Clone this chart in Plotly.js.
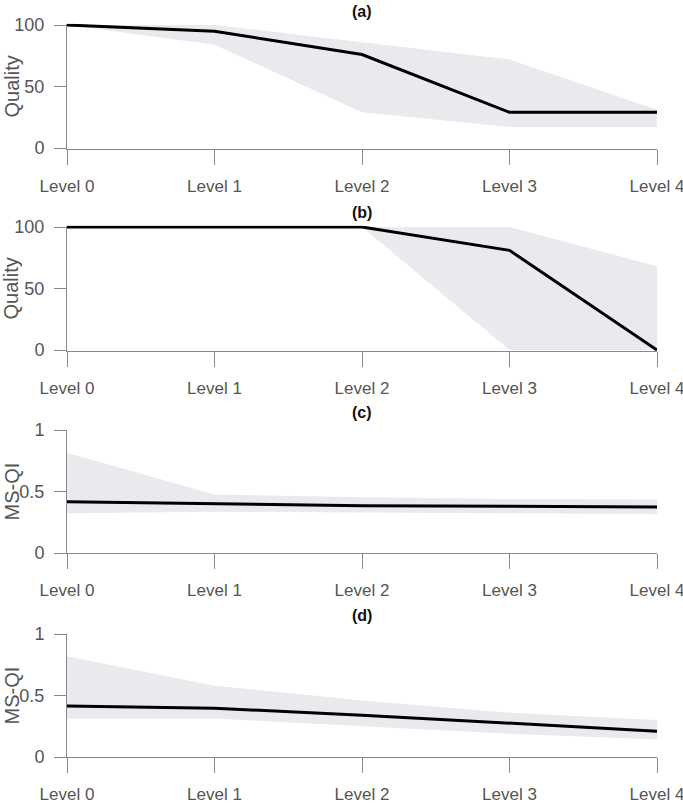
<!DOCTYPE html>
<html>
<head>
<meta charset="utf-8">
<script src="https://cdn.plot.ly/plotly-3.0.1.min.js"></script>
<style>html,body{margin:0;padding:0;background:#fff;}#chart{width:683px;height:807px;}</style>
</head>
<body>
<div id="chart"></div>
<script>
const levels = ['Level 0', 'Level 1', 'Level 2', 'Level 3', 'Level 4'];
const xpos = [0, 1, 2, 3, 4];

// (a) Quality
const aMean  = [100, 95, 76, 29, 29];
const aUpper = [100, 100, 86, 72, 31];
const aLower = [100, 84, 29, 17, 17];
// (b) Quality
const bMean  = [100, 100, 100, 81, 0];
const bUpper = [100, 100, 100, 100, 68];
const bLower = [100, 100, 100, 0, 0];
// (c) MS-QI
const cMean  = [0.417, 0.40, 0.385, 0.38, 0.374];
const cUpper = [0.815, 0.476, 0.454, 0.44, 0.435];
const cLower = [0.323, 0.336, 0.33, 0.323, 0.317];
// (d) MS-QI
const dMean  = [0.414, 0.397, 0.34, 0.276, 0.21];
const dUpper = [0.82, 0.58, 0.46, 0.36, 0.30];
const dLower = [0.313, 0.313, 0.25, 0.19, 0.143];

const panelTitles = ['(a)', '(b)', '(c)', '(d)'];
const yTitles = ['Quality', 'Quality', 'MS-QI', 'MS-QI'];

const H = 807;
const FILL = '#e9eaee';
const AX = '#8a8a8a';
const TXT = '#555555';
const FONT = '"Liberation Sans", Arial, Helvetica, sans-serif';

function dom(pTop, pBot, vTop, vBot, rMin, rMax) {
  const s = (pBot - pTop) / (vTop - vBot);
  const top = pTop - (rMax - vTop) * s;
  const bot = pBot + (vBot - rMin) * s;
  return [1 - bot / H, 1 - top / H];
}

const panels = [
  {mean: aMean, up: aUpper, lo: aLower, pTop: 25, pBot: 148, vTop: 100, r: [-0.8, 101], tv: [0, 50, 100], tt: ['0', '50', '100'], titleY: 11},
  {mean: bMean, up: bUpper, lo: bLower, pTop: 227, pBot: 350, vTop: 100, r: [-0.8, 101], tv: [0, 50, 100], tt: ['0', '50', '100'], titleY: 212},
  {mean: cMean, up: cUpper, lo: cLower, pTop: 430, pBot: 553, vTop: 1, r: [0, 1], tv: [0, 0.5, 1], tt: ['0', '0.5', '1'], titleY: 412},
  {mean: dMean, up: dUpper, lo: dLower, pTop: 634, pBot: 757, vTop: 1, r: [0, 1], tv: [0, 0.5, 1], tt: ['0', '0.5', '1'], titleY: 615}
];

const data = [];
const layout = {
  width: 683, height: 807,
  margin: {l: 67, r: 26, t: 0, b: 0},
  paper_bgcolor: '#fff', plot_bgcolor: '#fff',
  showlegend: false,
  annotations: []
};

panels.forEach((p, i) => {
  const n = i === 0 ? '' : String(i + 1);
  const xa = 'x' + n, ya = 'y' + n;
  data.push({x: xpos, y: p.lo, xaxis: xa, yaxis: ya, mode: 'lines', line: {width: 0, color: FILL}, hoverinfo: 'skip'});
  data.push({x: xpos, y: p.up, xaxis: xa, yaxis: ya, mode: 'lines', line: {width: 0, color: FILL}, fill: 'tonexty', fillcolor: FILL, hoverinfo: 'skip'});
  data.push({x: xpos, y: p.mean, xaxis: xa, yaxis: ya, mode: 'lines', line: {width: 3, color: '#000'}});

  const d = dom(p.pTop, p.pBot, p.vTop, 0, p.r[0], p.r[1]);
  layout['xaxis' + n] = {
    domain: [0, 1], anchor: ya, range: [0, 4],
    tickvals: xpos, ticktext: levels,
    showline: true, linecolor: AX, linewidth: 1,
    ticks: 'outside', ticklen: 15, tickcolor: AX, tickwidth: 1,
    showgrid: false, zeroline: false, ticklabelstandoff: 7,
    ticklabeloverflow: 'allow',
    tickfont: {family: FONT, size: 17, color: TXT}
  };
  layout['yaxis' + n] = {
    domain: d, anchor: xa, range: p.r,
    tickvals: p.tv, ticktext: p.tt,
    showline: true, linecolor: AX, linewidth: 1,
    ticks: 'outside', ticklen: 12, tickcolor: AX, tickwidth: 1,
    showgrid: false, zeroline: false, ticklabelstandoff: 6,
    ticklabeloverflow: 'allow',
    tickfont: {family: FONT, size: 18, color: TXT}
  };
  layout.annotations.push({
    xref: 'paper', yref: 'paper', x: 0.5, y: 1 - p.titleY / H,
    xanchor: 'center', yanchor: 'middle', showarrow: false,
    text: '<b>' + panelTitles[i] + '</b>',
    font: {family: FONT, size: 16, color: '#111'}
  });
  layout.annotations.push({
    xref: 'paper', yref: 'paper', x: (11 - 67) / 590, y: 1 - ((p.pTop + p.pBot) / 2) / H,
    xanchor: 'center', yanchor: 'middle', showarrow: false, textangle: -90,
    text: yTitles[i],
    font: {family: FONT, size: 20, color: TXT}
  });
});

Plotly.newPlot('chart', data, layout, {staticPlot: true});
</script>
</body>
</html>
